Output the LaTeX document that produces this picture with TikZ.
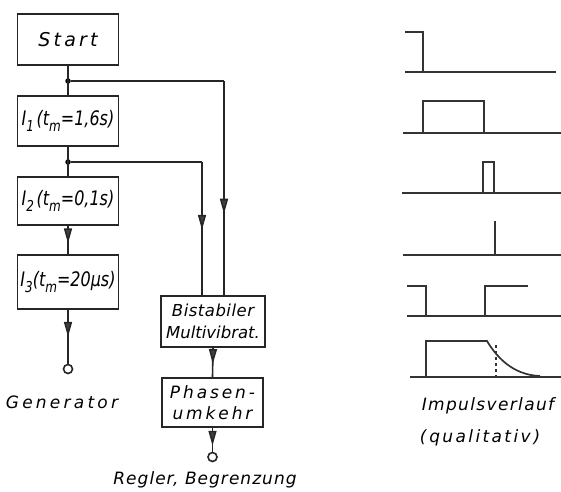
\documentclass[tikz,border=0pt]{standalone}
\usepackage{fontspec}
\setmainfont{DejaVu Sans}
\newfontfamily\dinf{DejaVu Sans}
\usetikzlibrary{arrows.meta,decorations.markings}
\newcommand{\lo}[1]{\raisebox{-0.5ex}{\fontsize{15}{15}\selectfont #1}}
\newcommand{\cond}[1]{\scalebox{0.8}[1]{#1}}
\newcommand{\lsp}[2]{{\addfontfeature{LetterSpace=#1}#2}}
\tikzset{
  line/.style={line width=1.6pt, draw=black!85},
  blk/.style={draw=black!85, line width=1.8pt, rectangle, inner sep=0pt, align=center, font=\itshape},
  midarrow/.style={postaction={decorate, decoration={markings,
     mark=at position #1 with {\arrow{Triangle[length=15pt,width=8pt,fill=black!75]}}}}},
  junc/.style={circle, fill=black, inner sep=0pt, minimum size=5.5pt},
  term/.style={circle, draw=black!85, line width=1.6pt, inner sep=0pt, minimum size=9pt},
  wave/.style={line width=1.7pt, draw=black!80},
  lbl/.style={font=\dinf\itshape\fontsize{17}{20}\selectfont}
}
\begin{document}
\begin{tikzpicture}[x=1pt,y=-1pt]
\useasboundingbox (0,0) rectangle (561,491);
% blocks
\node[blk, minimum width=101pt, minimum height=51pt, font=\dinf\itshape\fontsize{19}{20}\selectfont] (start) at (68,39.5) {\lsp{17}{Start}};
\node[blk, minimum width=101pt, minimum height=50pt, font=\dinf\itshape\fontsize{20}{22}\selectfont] (i1) at (68,121) {\cond{I\lo{1}\,(t\lo{m}=1,6s)}};
\node[blk, minimum width=101pt, minimum height=48pt, font=\dinf\itshape\fontsize{20}{22}\selectfont] (i2) at (68,201) {\cond{I\lo{2}\,(t\lo{m}=0,1s)}};
\node[blk, minimum width=101pt, minimum height=54pt, font=\dinf\itshape\fontsize{20}{22}\selectfont] (i3) at (68,282) {\cond{I\lo{3}(t\lo{m}=20µs)}};
\node[blk, minimum width=104pt, minimum height=51pt, font=\dinf\itshape\fontsize{16.5}{21}\selectfont] (mv) at (213,321.5) {\lsp{3}{Bistabiler}\\[1pt]Multivibrat.};
\node[blk, minimum width=101pt, minimum height=49pt, font=\dinf\itshape\fontsize{17}{21}\selectfont] (ph) at (212.5,402.5) {\lsp{17}{Phasen-}\\\lsp{17}{umkehr}};
% junctions and terminals
\node[junc] (j1) at (68,81) {};
\node[junc] (j2) at (68,162) {};
\coordinate (c1) at (224,81);
\coordinate (c2) at (202,162);
\node[term] (g) at (68,369) {};
\node[term] (r) at (212.5,457) {};
% connectors
\draw[line] (start.south) -- (i1.north);
\draw[line] (i1.south) -- (i2.north);
\draw[line] (j1) -- (c1);
\draw[line, midarrow=0.62] (c1) -- (c1 |- mv.north);
\draw[line] (j2) -- (c2);
\draw[line, midarrow=0.51] (c2) -- (c2 |- mv.north);
\draw[line, midarrow=0.62] (i2.south) -- (i3.north);
\draw[line, midarrow=0.5] (i3.south) -- (g.north);
\draw[line, midarrow=0.55] (mv.south) -- (ph.north);
\draw[line, midarrow=0.75] (ph.south) -- (r.north);
% labels
\node[lbl] (gen) at (62,402) {\lsp{19}{Generator}};
\node[lbl] (reg) at (205,480) {\lsp{6}{Regler, Begrenzung}};
\node[lbl] (imp) at (488,406) {\lsp{8}{Impulsverlauf}};
\node[lbl] (qual) at (480,438) {\lsp{14}{(\,qualitativ\,)}};
% waveforms
\draw[wave] (405,32) -- (423,32) -- (423,72);
\draw[wave] (405,72) -- (556,72);
\draw[wave] (403,133) -- (561,133);
\draw[wave] (423,133) -- (423,101) -- (484,101) -- (484,133);
\draw[wave] (402,193) -- (561,193);
\draw[wave] (483,193) -- (483,162) -- (494,162) -- (494,193);
\draw[wave] (403,255) -- (561,255);
\draw[wave] (495,255) -- (495,221);
\draw[wave] (407,286) -- (426,286) -- (426,316);
\draw[wave] (407,316) -- (561,316);
\draw[wave] (485,316) -- (485,286) -- (528,286);
\draw[wave] (410,377) -- (561,377);
\draw[wave] (426,377) -- (426,341) -- (487,341) .. controls (496,356) and (512,375) .. (540,376);
\draw[wave, dashed, line width=1.3pt] (496,345) -- (496,377);
\end{tikzpicture}
\end{document}
